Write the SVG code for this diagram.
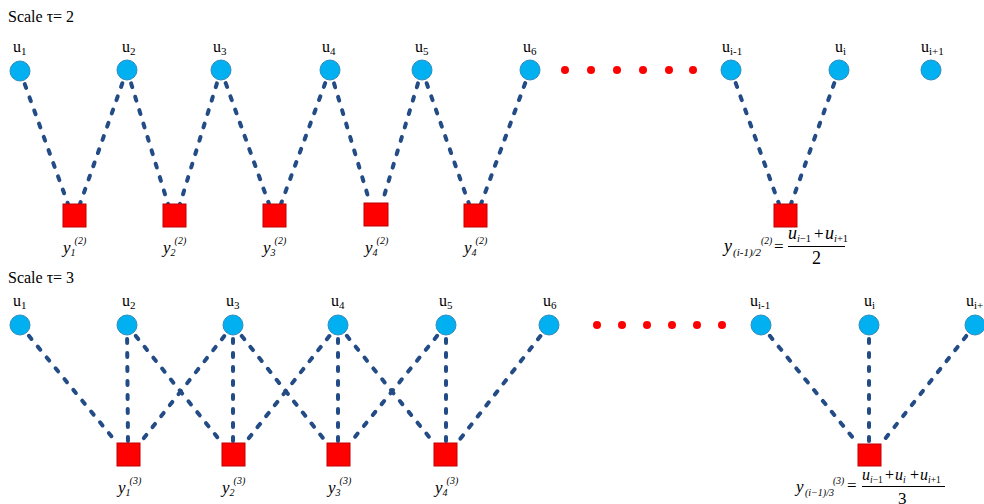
<svg xmlns="http://www.w3.org/2000/svg" width="984" height="504" viewBox="0 0 984 504">
<style>
  text { font-family: "Liberation Serif", "Times New Roman", serif; fill: #000; }
  .title { font-size: 16px; }
  .ulab { font-size: 16px; }
  .sub { font-size: 11px; }
  .yl { font-size: 17px; font-style: italic; }
  .ys { font-size: 10px; font-style: italic; }
  .it { font-style: italic; }
  .link { stroke: #234B85; stroke-width: 4; stroke-dasharray: 4 10; stroke-linecap: round; fill: none; }
  .u { fill: #00B0F0; stroke: #2F8DC0; stroke-width: 1; }
  .y { fill: #FF0000; stroke: #C00000; stroke-width: 1; }
  .dot { fill: #FF0000; }
  .frac { stroke: #000; stroke-width: 1; }
</style>

<text class="title" x="8" y="22">Scale τ= 2</text>
<text class="title" x="8" y="283">Scale τ= 3</text>

<!-- connectors: scale 2 -->
<g id="connectors-scale2">
  <line class="link" x1="20" y1="71" x2="68" y2="204"/>
  <line class="link" x1="127" y1="70" x2="80" y2="204"/>
  <line class="link" x1="127" y1="70" x2="168" y2="204"/>
  <line class="link" x1="221" y1="70" x2="180" y2="204"/>
  <line class="link" x1="221" y1="70" x2="269" y2="204"/>
  <line class="link" x1="330" y1="70" x2="281" y2="204"/>
  <line class="link" x1="330" y1="70" x2="370" y2="203"/>
  <line class="link" x1="422" y1="70" x2="382" y2="203"/>
  <line class="link" x1="422" y1="70" x2="469" y2="204"/>
  <line class="link" x1="530" y1="70" x2="481" y2="204"/>
  <line class="link" x1="731" y1="70" x2="779" y2="204"/>
  <line class="link" x1="839" y1="70" x2="791" y2="204"/>
</g>

<!-- connectors: scale 3 -->
<g id="connectors-scale3">
  <line class="link" x1="20" y1="325" x2="117" y2="443"/>
  <line class="link" x1="127" y1="325" x2="128" y2="443"/>
  <line class="link" x1="233" y1="325" x2="140" y2="443"/>
  <line class="link" x1="127" y1="325" x2="222" y2="443"/>
  <line class="link" x1="233" y1="325" x2="233" y2="443"/>
  <line class="link" x1="338" y1="325" x2="245" y2="443"/>
  <line class="link" x1="233" y1="325" x2="327" y2="443"/>
  <line class="link" x1="338" y1="325" x2="338" y2="443"/>
  <line class="link" x1="446" y1="325" x2="350" y2="443"/>
  <line class="link" x1="338" y1="325" x2="434" y2="443"/>
  <line class="link" x1="446" y1="325" x2="446" y2="443"/>
  <line class="link" x1="549" y1="325" x2="457" y2="443"/>
  <line class="link" x1="761" y1="325" x2="858" y2="444"/>
  <line class="link" x1="869" y1="325" x2="869" y2="444"/>
  <line class="link" x1="975" y1="325" x2="881" y2="444"/>
</g>

<!-- scale 2 input nodes -->
<g id="s2-u1"><circle class="u" cx="20" cy="71" r="10"/><text class="ulab" x="13" y="52">u<tspan class="sub" dy="3">1</tspan></text></g>
<g id="s2-u2"><circle class="u" cx="127" cy="70" r="10"/><text class="ulab" x="122" y="52">u<tspan class="sub" dy="3">2</tspan></text></g>
<g id="s2-u3"><circle class="u" cx="221" cy="70" r="10"/><text class="ulab" x="213" y="52">u<tspan class="sub" dy="3">3</tspan></text></g>
<g id="s2-u4"><circle class="u" cx="330" cy="70" r="10"/><text class="ulab" x="322" y="52">u<tspan class="sub" dy="3">4</tspan></text></g>
<g id="s2-u5"><circle class="u" cx="422" cy="70" r="10"/><text class="ulab" x="415" y="52">u<tspan class="sub" dy="3">5</tspan></text></g>
<g id="s2-u6"><circle class="u" cx="530" cy="70" r="10"/><text class="ulab" x="523" y="52">u<tspan class="sub" dy="3">6</tspan></text></g>
<g id="s2-ellipsis">
  <circle class="dot" cx="565" cy="70" r="4"/><circle class="dot" cx="591" cy="70" r="4"/>
  <circle class="dot" cx="617" cy="70" r="4"/><circle class="dot" cx="643" cy="70" r="4"/>
  <circle class="dot" cx="669" cy="70" r="4"/><circle class="dot" cx="693" cy="70" r="4"/>
</g>
<g id="s2-ui-1"><circle class="u" cx="731" cy="70" r="10"/><text class="ulab" x="722" y="52">u<tspan class="sub" dy="3">i-1</tspan></text></g>
<g id="s2-ui"><circle class="u" cx="839" cy="70" r="10"/><text class="ulab" x="835" y="52">u<tspan class="sub" dy="3">i</tspan></text></g>
<g id="s2-ui+1"><circle class="u" cx="931" cy="70" r="10"/><text class="ulab" x="921" y="52">u<tspan class="sub" dy="3">i+1</tspan></text></g>

<!-- scale 2 coarse-grained nodes -->
<g id="s2-y1"><rect class="y" x="63" y="204" width="23" height="23"/><text class="yl" x="63" y="253">y<tspan class="ys" dy="3">1</tspan><tspan class="ys" dx="-1" dy="-12">(2)</tspan></text></g>
<g id="s2-y2"><rect class="y" x="163" y="204" width="23" height="23"/><text class="yl" x="163" y="253">y<tspan class="ys" dy="3">2</tspan><tspan class="ys" dx="-1" dy="-12">(2)</tspan></text></g>
<g id="s2-y3"><rect class="y" x="263" y="204" width="23" height="23"/><text class="yl" x="263" y="253">y<tspan class="ys" dy="3">3</tspan><tspan class="ys" dx="-1" dy="-12">(2)</tspan></text></g>
<g id="s2-y4a"><rect class="y" x="364" y="203" width="24" height="23"/><text class="yl" x="365" y="253">y<tspan class="ys" dy="3">4</tspan><tspan class="ys" dx="-1" dy="-12">(2)</tspan></text></g>
<g id="s2-y4b"><rect class="y" x="464" y="204" width="23" height="23"/><text class="yl" x="464" y="253">y<tspan class="ys" dy="3">4</tspan><tspan class="ys" dx="-1" dy="-12">(2)</tspan></text></g>
<g id="s2-yi">
  <rect class="y" x="774" y="204" width="23" height="23"/>
  <!-- y_{(i-1)/2}^{(2)} = (u_{i-1} + u_{i+1}) / 2 -->
  <text class="it" x="724" y="252" font-size="18">y</text>
  <text class="it" x="733" y="256" font-size="11">(i-1)/2</text>
  <text class="it" x="761" y="244" font-size="9.5">(2)</text>
  <text x="774" y="252" font-size="17">=</text>
  <text class="it" x="788" y="239" font-size="18">u</text>
  <text class="it" x="797" y="242" font-size="10.5">i<tspan font-style="normal">−1</tspan></text>
  <text x="814" y="239" font-size="17">+</text>
  <text class="it" x="825" y="239" font-size="18">u</text>
  <text class="it" x="834" y="242" font-size="10.5">i<tspan font-style="normal">+1</tspan></text>
  <line class="frac" x1="788" y1="246.5" x2="845" y2="246.5"/>
  <text x="812" y="264" font-size="18">2</text>
</g>

<!-- scale 3 input nodes -->
<g id="s3-u1"><circle class="u" cx="20" cy="325" r="10"/><text class="ulab" x="13" y="306">u<tspan class="sub" dy="3">1</tspan></text></g>
<g id="s3-u2"><circle class="u" cx="127" cy="325" r="10"/><text class="ulab" x="122" y="306">u<tspan class="sub" dy="3">2</tspan></text></g>
<g id="s3-u3"><circle class="u" cx="233" cy="325" r="10"/><text class="ulab" x="226" y="306">u<tspan class="sub" dy="3">3</tspan></text></g>
<g id="s3-u4"><circle class="u" cx="338" cy="325" r="10"/><text class="ulab" x="331" y="306">u<tspan class="sub" dy="3">4</tspan></text></g>
<g id="s3-u5"><circle class="u" cx="446" cy="325" r="10"/><text class="ulab" x="439" y="306">u<tspan class="sub" dy="3">5</tspan></text></g>
<g id="s3-u6"><circle class="u" cx="549" cy="325" r="10"/><text class="ulab" x="543" y="306">u<tspan class="sub" dy="3">6</tspan></text></g>
<g id="s3-ellipsis">
  <circle class="dot" cx="597" cy="325" r="4"/><circle class="dot" cx="622" cy="325" r="4"/>
  <circle class="dot" cx="647" cy="325" r="4"/><circle class="dot" cx="672" cy="325" r="4"/>
  <circle class="dot" cx="697" cy="325" r="4"/><circle class="dot" cx="722" cy="325" r="4"/>
</g>
<g id="s3-ui-1"><circle class="u" cx="761" cy="325" r="10"/><text class="ulab" x="750" y="306">u<tspan class="sub" dy="3">i-1</tspan></text></g>
<g id="s3-ui"><circle class="u" cx="869" cy="325" r="10"/><text class="ulab" x="864" y="306">u<tspan class="sub" dy="3">i</tspan></text></g>
<g id="s3-ui+1"><circle class="u" cx="975" cy="325" r="10"/><text class="ulab" x="966" y="306">u<tspan class="sub" dy="3">i+1</tspan></text></g>

<!-- scale 3 coarse-grained nodes -->
<g id="s3-y1"><rect class="y" x="117" y="443" width="23" height="23"/><text class="yl" x="118" y="493">y<tspan class="ys" dy="3">1</tspan><tspan class="ys" dx="-1" dy="-12">(3)</tspan></text></g>
<g id="s3-y2"><rect class="y" x="222" y="443" width="23" height="23"/><text class="yl" x="222" y="493">y<tspan class="ys" dy="3">2</tspan><tspan class="ys" dx="-1" dy="-12">(3)</tspan></text></g>
<g id="s3-y3"><rect class="y" x="327" y="443" width="23" height="23"/><text class="yl" x="328" y="493">y<tspan class="ys" dy="3">3</tspan><tspan class="ys" dx="-1" dy="-12">(3)</tspan></text></g>
<g id="s3-y4"><rect class="y" x="434" y="443" width="23" height="23"/><text class="yl" x="435" y="493">y<tspan class="ys" dy="3">4</tspan><tspan class="ys" dx="-1" dy="-12">(3)</tspan></text></g>
<g id="s3-yi">
  <rect class="y" x="858" y="444" width="23" height="22"/>
  <!-- y_{(i-1)/3}^{(3)} = (u_{i-1} + u_i + u_{i+1}) / 3 -->
  <text class="it" x="796" y="492" font-size="17">y</text>
  <text class="it" x="805" y="496" font-size="10">(i−1)/3</text>
  <text class="it" x="833" y="484" font-size="9.5">(3)</text>
  <text x="847" y="491" font-size="17">=</text>
  <text class="it" x="862" y="480" font-size="16">u</text>
  <text class="it" x="870" y="483" font-size="9.5">i<tspan font-style="normal">−1</tspan></text>
  <text x="885" y="480" font-size="16">+</text>
  <text class="it" x="895" y="480" font-size="16">u</text>
  <text class="it" x="903" y="483" font-size="9.5">i</text>
  <text x="910" y="480" font-size="16">+</text>
  <text class="it" x="920" y="480" font-size="16">u</text>
  <text class="it" x="928" y="483" font-size="9.5">i<tspan font-style="normal">+1</tspan></text>
  <line class="frac" x1="862" y1="486.5" x2="945" y2="486.5"/>
  <text x="898" y="504" font-size="17">3</text>
</g>
</svg>
